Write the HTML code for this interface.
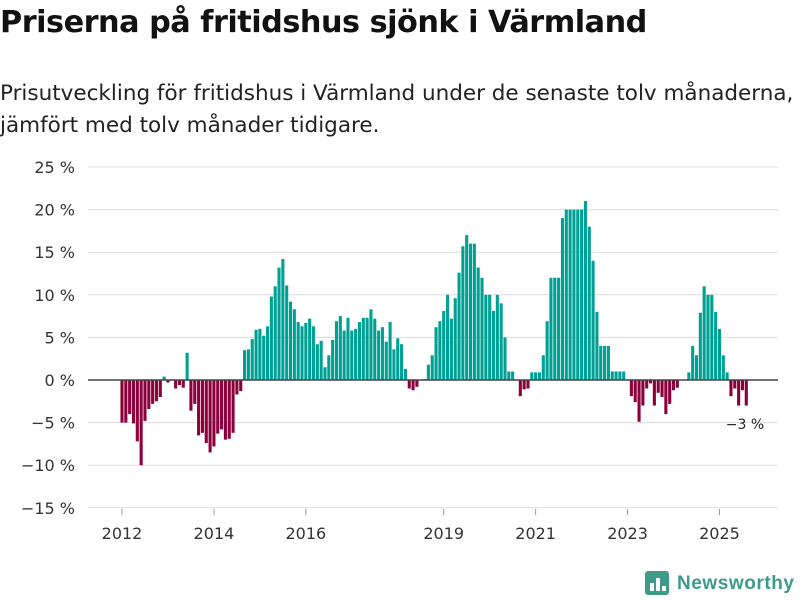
<!DOCTYPE html>
<html><head><meta charset="utf-8">
<style>
body{margin:0;background:#fff;font-family:"Liberation Sans","DejaVu Sans",sans-serif;}
#wrap{position:relative;width:800px;height:600px;overflow:hidden;}
h1{position:absolute;left:0;top:5px;margin:0;font-size:30.3px;font-weight:bold;color:#111;font-family:"DejaVu Sans","Liberation Sans",sans-serif;letter-spacing:-0.5px}
.sub{position:absolute;left:0;top:78px;margin:0;font-size:21.5px;line-height:32px;color:#222;font-family:"DejaVu Sans","Liberation Sans",sans-serif;white-space:nowrap}
</style></head><body>
<div id="wrap">
<h1>Priserna på fritidshus sjönk i Värmland</h1>
<p class="sub">Prisutveckling för fritidshus i Värmland under de senaste tolv månaderna,<br>jämfört med tolv månader tidigare.</p>
<svg id="chart" width="800" height="600" style="position:absolute;left:0;top:0"></svg>
</div>
<script>
const values = [
-5.0,-5.0,-4.0,-5.1,-7.2,-10,-4.8,-3.4,-2.8,-2.5,-2.0,0.4,
-0.3,null,-1.0,-0.6,-0.9,3.2,-3.6,-2.8,-6.5,-6.2,-7.4,-8.5,
-7.8,-6.3,-5.8,-7.0,-6.9,-6.2,-1.7,-1.3,3.5,3.6,4.8,5.9,
6.0,5.2,6.3,9.8,11,13.2,14.2,11.1,9.2,8.3,6.8,6.3,
6.7,7.2,6.3,4.2,4.6,1.5,2.9,4.7,6.9,7.5,5.8,7.3,
5.8,6.0,6.8,7.3,7.3,8.3,7.2,5.8,6.2,4.5,6.8,3.6,
4.9,4.2,1.3,-1.0,-1.2,-0.8,null,0.1,1.8,2.9,6.2,6.9,
8.1,10,7.2,9.6,12.6,15.7,17,16,16,13.2,12,10,
10,8.1,10,9,5,1,1,null,-1.9,-1.1,-1.0,0.9,
0.9,0.9,2.9,6.9,12,12,12,19,20,20,20,20,
20,21,18,14,8,4,4,4,1,1,1,1,
null,-1.9,-2.6,-4.9,-3.0,-1.0,-0.4,-3.0,-1.5,-2.0,-4.0,-2.8,
-1.2,-0.9,null,null,0.9,4.0,2.9,7.9,11,10,10,8,
6,2.9,0.9,-1.9,-1.0,-3.0,-1.2,-3.0
];
const yTicks = [25,20,15,10,5,0,-5,-10,-15];
const xLabels = ["2012","2014","2016","2019","2021","2023","2025"];
const xLabelMonths = [0,24,48,84,108,132,156];
const lastLabel = "−3 %";

const NS="http://www.w3.org/2000/svg";
const svg=document.getElementById('chart');
function y(v){return 380 - v*8.52;}
function x(m){return 122 + m*3.83;}
function el(t,a){const e=document.createElementNS(NS,t);for(const k in a)e.setAttribute(k,a[k]);svg.appendChild(e);return e;}

yTicks.forEach(t=>{
  const g=el('line',{x1:88,x2:778,y1:y(t),y2:y(t),stroke:'#dcdcdc','stroke-width':1});
  
  
  const tx=el('text',{x:75,y:y(t)+6,'text-anchor':'end','font-size':16,fill:'#333','font-family':'DejaVu Sans, Liberation Sans, sans-serif'});
  tx.textContent=String(t).replace('-','−')+' %';
  
  
});
xLabels.forEach((l,i)=>{
  const tk=el('line',{x1:x(xLabelMonths[i]),x2:x(xLabelMonths[i]),y1:509,y2:515,stroke:'#999','stroke-width':1});
  
  
  const tx=el('text',{x:x(xLabelMonths[i]),y:539,'text-anchor':'middle','font-size':16,fill:'#333','font-family':'DejaVu Sans, Liberation Sans, sans-serif'});
  tx.textContent=l;
  
  
});
values.forEach((v,i)=>{
  if(v===null)return;
  const top=v>=0?y(v):y(0), h=Math.abs(y(v)-y(0));
  const r=el('rect',{x:x(i)-1.55,y:top,width:3.1,height:Math.max(h,0.5),fill:v>=0?'#00a195':'#8c003c'});
  
  
});
const zl=el('line',{x1:88,x2:778,y1:y(0),y2:y(0),stroke:'#444','stroke-width':1.5});


const ll=el('text',{x:745,y:429,'text-anchor':'middle','font-size':14,fill:'#222','font-family':'DejaVu Sans, Liberation Sans, sans-serif'});
ll.textContent=lastLabel;



const lg=el('g',{});


const ic=document.createElementNS(NS,'rect');
ic.setAttribute('x',645);ic.setAttribute('y',571);ic.setAttribute('width',24);ic.setAttribute('height',24);ic.setAttribute('rx',3);ic.setAttribute('fill','#3d9b8c');
lg.appendChild(ic);
[[650,583,4,8],[656,578,4,13],[662,586,4,5]].forEach(b=>{const r=document.createElementNS(NS,'rect');r.setAttribute('x',b[0]);r.setAttribute('y',b[1]);r.setAttribute('width',b[2]);r.setAttribute('height',b[3]);r.setAttribute('fill','#fff');lg.appendChild(r);});
const lt=document.createElementNS(NS,'text');
lt.setAttribute('x',677);lt.setAttribute('y',589);lt.setAttribute('font-size',19);lt.setAttribute('font-weight','bold');lt.setAttribute('fill','#3d9b8c');lt.setAttribute('font-family','Liberation Sans, DejaVu Sans, sans-serif');
lt.setAttribute('textLength',117);
lt.textContent='Newsworthy';
lg.appendChild(lt);
</script>
</body></html>
